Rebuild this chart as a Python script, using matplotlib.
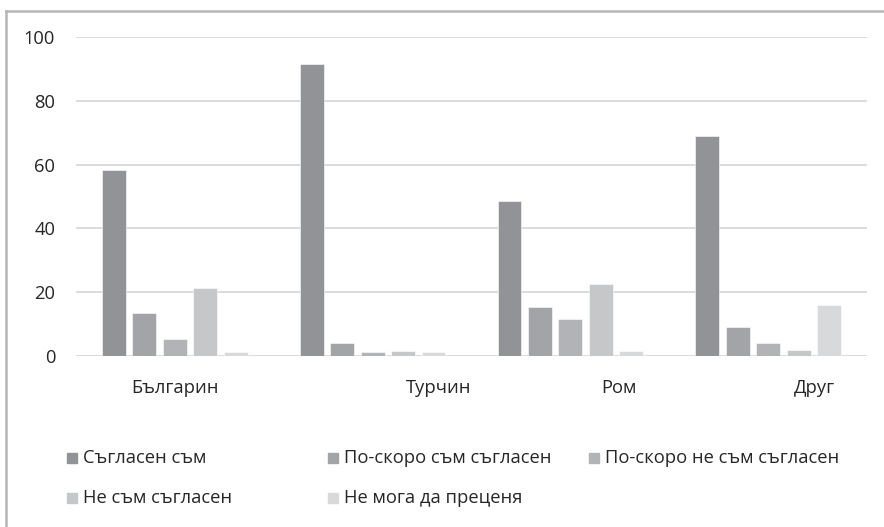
import numpy as np
import matplotlib
matplotlib.use("Agg")
import matplotlib.pyplot as plt
from matplotlib.lines import Line2D
from matplotlib.patches import Rectangle

plt.rcParams['font.family'] = ['Open Sans', 'DejaVu Sans']

categories = ['Българин', 'Турчин', 'Ром', 'Друг']
series_names = ['Съгласен съм', 'По-скоро съм съгласен', 'По-скоро не съм съгласен',
                'Не съм съгласен', 'Не мога да преценя']
agree = [58.2, 91.5, 48.6, 69.0]
rather_agree = [13.5, 4.1, 15.3, 9.0]
rather_disagree = [5.3, 1.2, 11.5, 4.0]
disagree = [21.4, 1.6, 22.7, 1.9]
cant_say = [1.3, 1.2, 1.6, 16.1]
yticks = [0, 20, 40, 60, 80, 100]

values = [agree, rather_agree, rather_disagree, disagree, cant_say]
colors = ['#929397', '#a3a4a7', '#b2b3b6', '#c6c7c9', '#d8d9da']
text_color = '#262626'
fs = 13.2

W, H = 884, 527
fig = plt.figure(figsize=(W / 100, H / 100), dpi=100)
ax = fig.add_axes([76 / W, 1 - 356 / H, (867 - 76) / W, (356 - 37) / H])

x = np.arange(len(categories))
pitch, width = 0.154, 0.121
for k, (vals, col) in enumerate(zip(values, colors)):
    ax.bar(x + (k - 2) * pitch, vals, width, color=col, zorder=3,
           edgecolor='white', linewidth=0.4)

ax.set_xlim(-0.5, 3.5)
ax.set_ylim(0, 100)
ax.set_yticks(yticks)
ax.set_yticklabels([str(v) for v in yticks], fontsize=fs, color=text_color)
ax.tick_params(axis='y', length=0, pad=15)
ax.set_xticks([])
ax.grid(axis='y', color='#d9d9d9', linewidth=1.3, zorder=0)
for s in ax.spines.values():
    s.set_visible(False)

# category labels are shifted in the original chart
label_shift = [0.0, 0.334, 0.248, 0.233]
for i, name in enumerate(categories):
    ax.text(x[i] + label_shift[i], -0.1, name, transform=ax.get_xaxis_transform(),
            ha='center', va='center', fontsize=fs, color=text_color)

# legend laid out on a 3-column grid, filled row by row
for i, (name, col) in enumerate(zip(series_names, colors)):
    r, c = divmod(i, 3)
    lx = 67 + c * 261
    ly = 458 + r * 40
    fig.add_artist(Rectangle((lx / W, 1 - (ly + 5) / H), 10 / W, 10 / H,
                             transform=fig.transFigure, color=col))
    fig.text((lx + 16) / W, 1 - ly / H, name, ha='left', va='center',
             fontsize=fs, color=text_color)

# outer chart frame (top and left edges visible)
fig.add_artist(Line2D([6 / W, 1], [1 - 11 / H, 1 - 11 / H], transform=fig.transFigure,
                      color='#b5b5b5', linewidth=1.8))
fig.add_artist(Line2D([6 / W, 6 / W], [0, 1 - 11 / H], transform=fig.transFigure,
                      color='#b5b5b5', linewidth=1.8))

fig.savefig('out.png', dpi=100)
